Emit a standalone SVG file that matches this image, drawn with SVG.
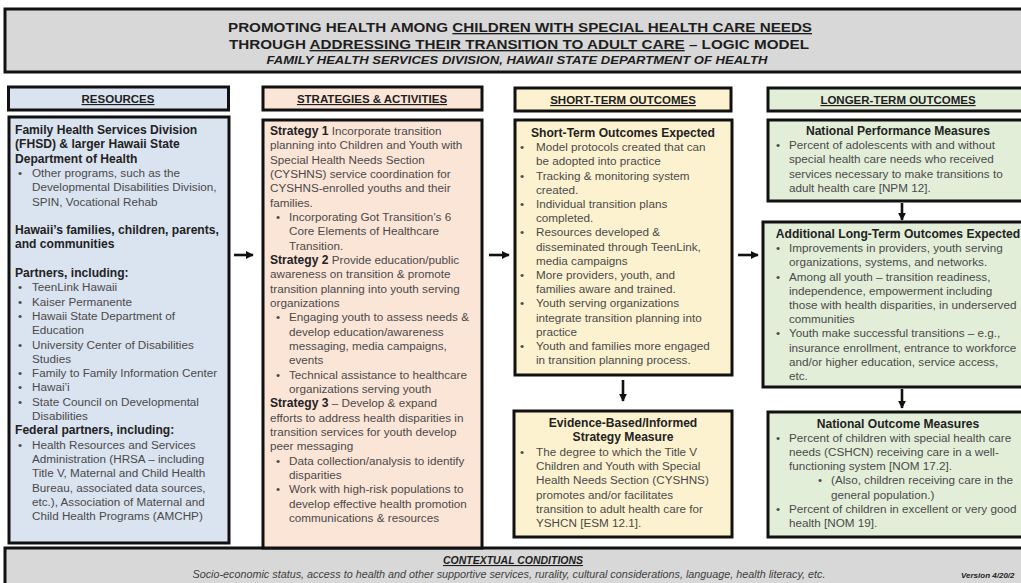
<svg xmlns="http://www.w3.org/2000/svg" width="1021" height="583" viewBox="0 0 1021 583">
<style>
.box{stroke:#111;stroke-width:3}
.gray{fill:#d8d8d8}
.blue{fill:#dae3f0}
.peach{fill:#fbe5d7}
.yel{fill:#fdf2cf}
.green{fill:#e3eed9}
text{font-family:"Liberation Sans",Arial,sans-serif}
.t{font-size:11.7px;fill:#4a4a4a}
.b{font-size:12.1px;font-weight:bold;fill:#222}
.c{text-anchor:middle}
.h{font-size:11.5px;font-weight:bold;fill:#1e1e1e;text-anchor:middle;text-decoration:underline}
.conn{stroke:#111;stroke-width:2.6;fill:none}
</style>
<defs>
<marker id="ah" viewBox="0 0 10 10" refX="9" refY="5" markerWidth="8" markerHeight="8" markerUnits="userSpaceOnUse" orient="auto">
<path d="M0,0 L10,5 L0,10 z" fill="#111"/>
</marker>
</defs>
<rect width="1021" height="583" fill="#fff"/>

<g id="title">
<rect class="box gray" x="5" y="9" width="1030" height="63"/>
<text x="520" y="32" class="c" font-size="13.5" font-weight="bold" fill="#1e1e1e" textLength="584" lengthAdjust="spacingAndGlyphs">PROMOTING HEALTH AMONG <tspan text-decoration="underline">CHILDREN WITH SPECIAL HEALTH CARE NEEDS</tspan></text>
<text x="519" y="49" class="c" font-size="13.5" font-weight="bold" fill="#1e1e1e" textLength="580" lengthAdjust="spacingAndGlyphs">THROUGH <tspan text-decoration="underline">ADDRESSING THEIR TRANSITION TO ADULT CARE</tspan> – LOGIC MODEL</text>
<text x="517" y="64" class="c" font-size="10.5" font-weight="bold" font-style="italic" fill="#1e1e1e" textLength="501" lengthAdjust="spacingAndGlyphs">FAMILY HEALTH SERVICES DIVISION, HAWAII STATE DEPARTMENT OF HEALTH</text>
</g>

<g id="context">
<rect class="box gray" x="5" y="548" width="1030" height="40"/>
<text x="513" y="564" class="c" font-size="11" font-weight="bold" font-style="italic" fill="#1e1e1e" text-decoration="underline" textLength="140" lengthAdjust="spacingAndGlyphs">CONTEXTUAL CONDITIONS</text>
<text x="509" y="578" class="c" font-size="10.5" font-style="italic" fill="#404040" textLength="633" lengthAdjust="spacingAndGlyphs">Socio-economic status, access to health and other supportive services, rurality, cultural considerations, language, health literacy, etc.</text>
<text x="961" y="578" font-size="8" font-weight="bold" font-style="italic" fill="#1e1e1e">Version 4/20/2</text>
</g>

<g id="hdr-resources">
<rect class="box blue" x="8.5" y="87" width="220" height="23"/>
<text x="118" y="103" class="h">RESOURCES</text>
</g>
<g id="resources">
<rect class="box blue" x="9" y="117" width="220" height="426"/>
<text class="b" x="15" y="134">Family Health Services Division</text>
<text class="b" x="15" y="148.3">(FHSD) &amp; larger Hawaii State</text>
<text class="b" x="15" y="162.6">Department of Health</text>
<text class="t" y="176.9"><tspan x="18">•</tspan><tspan x="32">Other programs, such as the</tspan></text>
<text class="t" x="32" y="191.2">Developmental Disabilities Division,</text>
<text class="t" x="32" y="205.5">SPIN, Vocational Rehab</text>
<text class="b" x="15" y="234.1">Hawaii’s families, children, parents,</text>
<text class="b" x="15" y="248.4">and communities</text>
<text class="b" x="15" y="277">Partners, including:</text>
<text class="t" y="291.3"><tspan x="18">•</tspan><tspan x="32">TeenLink Hawaii</tspan></text>
<text class="t" y="305.6"><tspan x="18">•</tspan><tspan x="32">Kaiser Permanente</tspan></text>
<text class="t" y="319.9"><tspan x="18">•</tspan><tspan x="32">Hawaii State Department of</tspan></text>
<text class="t" x="32" y="334.2">Education</text>
<text class="t" y="348.5"><tspan x="18">•</tspan><tspan x="32">University Center of Disabilities</tspan></text>
<text class="t" x="32" y="362.8">Studies</text>
<text class="t" y="377.1"><tspan x="18">•</tspan><tspan x="32">Family to Family Information Center</tspan></text>
<text class="t" y="391.4"><tspan x="18">•</tspan><tspan x="32">Hawai’i</tspan></text>
<text class="t" y="405.7"><tspan x="18">•</tspan><tspan x="32">State Council on Developmental</tspan></text>
<text class="t" x="32" y="420">Disabilities</text>
<text class="b" x="15" y="434.3">Federal partners, including:</text>
<text class="t" y="448.6"><tspan x="18">•</tspan><tspan x="32">Health Resources and Services</tspan></text>
<text class="t" x="32" y="462.9">Administration (HRSA – including</text>
<text class="t" x="32" y="477.2">Title V, Maternal and Child Health</text>
<text class="t" x="32" y="491.5">Bureau, associated data sources,</text>
<text class="t" x="32" y="505.8">etc.), Association of Maternal and</text>
<text class="t" x="32" y="520.1">Child Health Programs (AMCHP)</text>
</g>

<g id="hdr-strategies">
<rect class="box peach" x="263" y="87" width="219" height="23"/>
<text x="372" y="103" class="h">STRATEGIES &amp; ACTIVITIES</text>
</g>
<g id="strategies">
<rect class="box peach" x="263" y="120" width="219" height="428"/>
<text class="t" x="270" y="135"><tspan class="b">Strategy 1</tspan>  Incorporate transition</text>
<text class="t" x="270" y="149.3">planning into Children and Youth with</text>
<text class="t" x="270" y="163.7">Special Health Needs Section</text>
<text class="t" x="270" y="178">(CYSHNS) service coordination for</text>
<text class="t" x="270" y="192.3">CYSHNS-enrolled  youths and their</text>
<text class="t" x="270" y="206.7">families.</text>
<text class="t" y="221"><tspan x="276">•</tspan><tspan x="289">Incorporating Got Transition’s 6</tspan></text>
<text class="t" x="289" y="235.3">Core Elements of Healthcare</text>
<text class="t" x="289" y="249.6">Transition.</text>
<text class="t" x="270" y="264"><tspan class="b">Strategy 2</tspan> Provide education/public</text>
<text class="t" x="270" y="278.3">awareness on transition &amp; promote</text>
<text class="t" x="270" y="292.6">transition planning into youth serving</text>
<text class="t" x="270" y="307">organizations</text>
<text class="t" y="321.3"><tspan x="276">•</tspan><tspan x="289">Engaging youth to assess needs &amp;</tspan></text>
<text class="t" x="289" y="335.6">develop education/awareness</text>
<text class="t" x="289" y="350">messaging, media campaigns,</text>
<text class="t" x="289" y="364.3">events</text>
<text class="t" y="378.6"><tspan x="276">•</tspan><tspan x="289">Technical assistance to healthcare</tspan></text>
<text class="t" x="289" y="393">organizations serving youth</text>
<text class="t" x="270" y="407.3"><tspan class="b">Strategy 3</tspan> – Develop &amp; expand</text>
<text class="t" x="270" y="421.6">efforts to address health disparities in</text>
<text class="t" x="270" y="436">transition services for youth develop</text>
<text class="t" x="270" y="450.3">peer messaging</text>
<text class="t" y="464.6"><tspan x="276">•</tspan><tspan x="289">Data collection/analysis to identify</tspan></text>
<text class="t" x="289" y="479">disparities</text>
<text class="t" y="493.3"><tspan x="276">•</tspan><tspan x="289">Work with high-risk populations to</tspan></text>
<text class="t" x="289" y="507.6">develop effective health promotion</text>
<text class="t" x="289" y="522">communications &amp; resources</text>
</g>

<g id="hdr-short">
<rect class="box yel" x="515" y="88" width="216" height="23"/>
<text x="623" y="104" class="h">SHORT-TERM OUTCOMES</text>
</g>
<g id="short-term">
<rect class="box yel" x="515" y="120" width="217" height="255"/>
<text class="b c" x="623" y="137">Short-Term Outcomes Expected</text>
<text class="t" y="151.2"><tspan x="520">•</tspan><tspan x="536">Model protocols created that can</tspan></text>
<text class="t" x="536" y="165.4">be adopted into practice</text>
<text class="t" y="179.6"><tspan x="520">•</tspan><tspan x="536">Tracking &amp; monitoring system</tspan></text>
<text class="t" x="536" y="193.8">created.</text>
<text class="t" y="208"><tspan x="520">•</tspan><tspan x="536">Individual  transition plans</tspan></text>
<text class="t" x="536" y="222.2">completed.</text>
<text class="t" y="236.4"><tspan x="520">•</tspan><tspan x="536">Resources developed &amp;</tspan></text>
<text class="t" x="536" y="250.6">disseminated through TeenLink,</text>
<text class="t" x="536" y="264.8">media campaigns</text>
<text class="t" y="279"><tspan x="520">•</tspan><tspan x="536">More providers, youth, and</tspan></text>
<text class="t" x="536" y="293.2">families aware and trained.</text>
<text class="t" y="307.4"><tspan x="520">•</tspan><tspan x="536">Youth serving organizations</tspan></text>
<text class="t" x="536" y="321.6">integrate transition planning into</text>
<text class="t" x="536" y="335.8">practice</text>
<text class="t" y="350"><tspan x="520">•</tspan><tspan x="536">Youth and families more engaged</tspan></text>
<text class="t" x="536" y="364.2">in transition planning process.</text>
</g>

<g id="evidence">
<rect class="box yel" x="514" y="411" width="218" height="126"/>
<text class="b c" x="623" y="427">Evidence-Based/Informed</text>
<text class="b c" x="623" y="441.3">Strategy Measure</text>
<text class="t" y="455.6"><tspan x="520">•</tspan><tspan x="536">The degree to which the Title V</tspan></text>
<text class="t" x="536" y="469.9">Children and Youth with Special</text>
<text class="t" x="536" y="484.2">Health Needs Section (CYSHNS)</text>
<text class="t" x="536" y="498.5">promotes and/or facilitates</text>
<text class="t" x="536" y="512.8">transition to adult health care for</text>
<text class="t" x="536" y="527.1">YSHCN [ESM 12.1].</text>
</g>

<g id="hdr-longer">
<rect class="box green" x="768" y="88" width="270" height="23"/>
<text x="898" y="104" class="h">LONGER-TERM OUTCOMES</text>
</g>
<g id="npm">
<rect class="box green" x="768" y="120" width="270" height="81"/>
<text class="b c" x="898" y="135">National Performance Measures</text>
<text class="t" y="149.2"><tspan x="776">•</tspan><tspan x="789">Percent of adolescents with and without</tspan></text>
<text class="t" x="789" y="163.4">special health care needs who received</text>
<text class="t" x="789" y="177.6">services necessary to make transitions to</text>
<text class="t" x="789" y="191.8">adult health care [NPM 12].</text>
</g>
<g id="additional">
<rect class="box green" x="763" y="222" width="275" height="165"/>
<text class="b c" x="898" y="238">Additional  Long-Term Outcomes Expected</text>
<text class="t" y="252.2"><tspan x="776">•</tspan><tspan x="789">Improvements in providers, youth serving</tspan></text>
<text class="t" x="789" y="266.4">organizations, systems, and networks.</text>
<text class="t" y="280.6"><tspan x="776">•</tspan><tspan x="789">Among all youth – transition readiness,</tspan></text>
<text class="t" x="789" y="294.8">independence, empowerment including</text>
<text class="t" x="789" y="309">those with health disparities, in underserved</text>
<text class="t" x="789" y="323.2">communities</text>
<text class="t" y="337.4"><tspan x="776">•</tspan><tspan x="789">Youth make successful transitions – e.g.,</tspan></text>
<text class="t" x="789" y="351.6">insurance enrollment, entrance to workforce</text>
<text class="t" x="789" y="365.8">and/or higher education, service access,</text>
<text class="t" x="789" y="380">etc.</text>
</g>
<g id="nom">
<rect class="box green" x="768" y="412" width="270" height="125"/>
<text class="b c" x="898" y="428">National Outcome Measures</text>
<text class="t" y="442.1"><tspan x="776">•</tspan><tspan x="789">Percent of children with special health care</tspan></text>
<text class="t" x="789" y="456.2">needs (CSHCN) receiving care in a well-</text>
<text class="t" x="789" y="470.3">functioning system [NOM 17.2].</text>
<text class="t" y="484.4"><tspan x="818">•</tspan><tspan x="831">(Also, children receiving care in the</tspan></text>
<text class="t" x="831" y="498.5">general population.)</text>
<text class="t" y="512.6"><tspan x="776">•</tspan><tspan x="789">Percent of children in excellent or very good</tspan></text>
<text class="t" x="789" y="526.7">health [NOM 19].</text>
</g>

<g id="connectors">
<line class="conn" x1="234" y1="255" x2="253" y2="255" marker-end="url(#ah)"/>
<line class="conn" x1="489" y1="255" x2="509" y2="255" marker-end="url(#ah)"/>
<line class="conn" x1="738" y1="255" x2="758" y2="255" marker-end="url(#ah)"/>
<line class="conn" x1="623" y1="380" x2="623" y2="401" marker-end="url(#ah)"/>
<line class="conn" x1="902" y1="203" x2="902" y2="220" marker-end="url(#ah)"/>
<line class="conn" x1="902" y1="389" x2="902" y2="408" marker-end="url(#ah)"/>
</g>
</svg>
